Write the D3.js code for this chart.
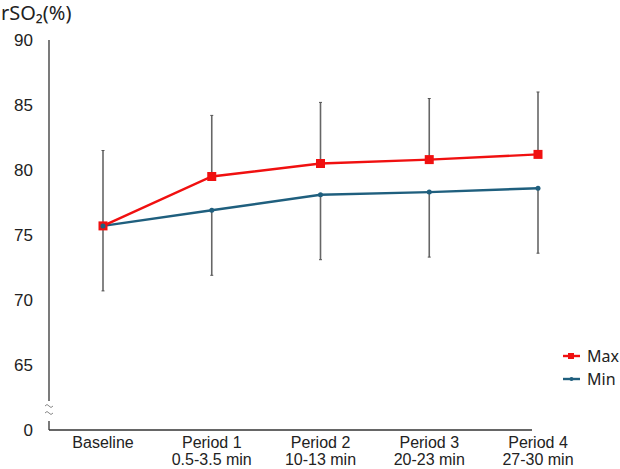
<!DOCTYPE html>
<html lang="en">
<head>
  <meta charset="utf-8">
  <script src="https://d3js.org/d3.v7.min.js"></script>
  <style>
    body { margin: 0; background: #fff; }
    text { font-family: "Liberation Sans", Arial, sans-serif; fill: #222; }
  </style>
</head>
<body>
  <div id="chart"></div>
  <script>
  const width = 620
  const height = 469

  // data
  const periods = ["Baseline", "Period 1", "Period 2", "Period 3", "Period 4"]
  const periodSub = ["", "0.5-3.5 min", "10-13 min", "20-23 min", "27-30 min"]
  const maxValues = [75.7, 79.5, 80.5, 80.8, 81.2]
  const minValues = [75.7, 76.9, 78.1, 78.3, 78.6]
  const maxUpper = [81.5, 84.2, 85.2, 85.5, 86.0]   // top of error bar (Max + SD)
  const minLower = [70.7, 71.9, 73.1, 73.3, 73.6]   // bottom of error bar (Min - SD)
  const yTicks = [60, 65, 70, 75, 80, 85, 90]
  const yTickLabels = ["0", "65", "70", "75", "80", "85", "90"]

  const redColor = "#f01010"
  const blueColor = "#1f5f7e"

  const x = d3.scalePoint()
      .domain(periods)
      .range([103, 538])

  const y = d3.scaleLinear()
      .domain([60, 90])
      .range([430, 40])

  const svg = d3.select("#chart").append("svg")
      .attr("width", width)
      .attr("height", height)

  // title
  svg.append("text")
      .attr("x", 1)
      .attr("y", 20)
      .style("font-size", "20px")
      .style("font-family", "'Noto Sans', sans-serif")
      .text("rSO₂(%)")

  ////////////////////// axes //////////////////////
  const axisX = 49
  const g = svg.append("g")

  // y axis line with a break near the bottom
  g.append("line")
      .attr("x1", axisX).attr("x2", axisX)
      .attr("y1", y(90)).attr("y2", 401)
      .attr("stroke", "#333").attr("stroke-width", 1.3)
  g.append("line")
      .attr("x1", axisX).attr("x2", axisX)
      .attr("y1", 421).attr("y2", y(60))
      .attr("stroke", "#333").attr("stroke-width", 1.3)
  // x axis line
  g.append("line")
      .attr("x1", axisX).attr("x2", 532)
      .attr("y1", y(60)).attr("y2", y(60))
      .attr("stroke", "#333").attr("stroke-width", 1.5)

  // break marks
  ;[405, 412].forEach(yy => {
    g.append("path")
        .attr("d", `M${axisX - 4},${yy + 1} q2,-3 4,0 t4,0`)
        .attr("fill", "none")
        .attr("stroke", "#888")
        .attr("stroke-width", 1)
  })

  // y tick labels
  g.selectAll(".ytick")
      .data(yTicks)
      .enter().append("text")
      .attr("class", "ytick")
      .attr("x", 33)
      .attr("y", d => y(d))
      .attr("dy", "0.35em")
      .attr("text-anchor", "end")
      .style("font-size", "17px")
      .text((d, i) => yTickLabels[i])

  // x labels
  const xl = g.selectAll(".xlab")
      .data(periods)
      .enter().append("text")
      .attr("class", "xlab")
      .attr("text-anchor", "middle")
      .style("font-size", "16px")
  xl.append("tspan")
      .attr("x", d => x(d))
      .attr("y", 448)
      .text(d => d)
  xl.append("tspan")
      .attr("x", d => x(d))
      .attr("y", 465)
      .text((d, i) => periodSub[i])

  ////////////////////// error bars //////////////////////
  const bars = g.append("g")
  periods.forEach((p, i) => {
    const cx = x(p)
    // upper part, from Max up
    bars.append("line")
        .attr("x1", cx).attr("x2", cx)
        .attr("y1", y(maxValues[i])).attr("y2", y(maxUpper[i]))
        .attr("stroke", "#666").attr("stroke-width", 1.6)
    // lower part, from Min down
    bars.append("line")
        .attr("x1", cx).attr("x2", cx)
        .attr("y1", y(minValues[i])).attr("y2", y(minLower[i]))
        .attr("stroke", "#666").attr("stroke-width", 1.6)
    ;[maxUpper[i], minLower[i]].forEach(v => {
      bars.append("line")
          .attr("x1", cx - 1.5).attr("x2", cx + 1.5)
          .attr("y1", y(v)).attr("y2", y(v))
          .attr("stroke", "#555").attr("stroke-width", 1)
    })
  })

  ////////////////////// lines //////////////////////
  const line = d3.line()
      .x((d, i) => x(periods[i]))
      .y(d => y(d))

  g.append("path")
      .datum(minValues)
      .attr("d", line)
      .attr("fill", "none")
      .attr("stroke", blueColor)
      .attr("stroke-width", 2.4)

  g.append("path")
      .datum(maxValues)
      .attr("d", line)
      .attr("fill", "none")
      .attr("stroke", redColor)
      .attr("stroke-width", 2.4)

  g.selectAll(".maxpt")
      .data(maxValues)
      .enter().append("rect")
      .attr("class", "maxpt")
      .attr("x", (d, i) => x(periods[i]) - 4.5)
      .attr("y", d => y(d) - 4.5)
      .attr("width", 9)
      .attr("height", 9)
      .attr("fill", redColor)

  g.selectAll(".minpt")
      .data(minValues)
      .enter().append("circle")
      .attr("class", "minpt")
      .attr("cx", (d, i) => x(periods[i]))
      .attr("cy", d => y(d))
      .attr("r", 2.5)
      .attr("fill", blueColor)

  ////////////////////// legend //////////////////////
  const legend = [
    { name: "Max", color: redColor, y: 356, square: true },
    { name: "Min", color: blueColor, y: 379, square: false }
  ]
  const lg = svg.append("g")
  legend.forEach(d => {
    lg.append("line")
        .attr("x1", 563).attr("x2", 580)
        .attr("y1", d.y).attr("y2", d.y)
        .attr("stroke", d.color).attr("stroke-width", 2.4)
    if (d.square) {
      lg.append("rect")
          .attr("x", 568).attr("y", d.y - 3)
          .attr("width", 6).attr("height", 6)
          .attr("fill", d.color)
    } else {
      lg.append("circle")
          .attr("cx", 571.5).attr("cy", d.y)
          .attr("r", 2)
          .attr("fill", d.color)
    }
    lg.append("text")
        .attr("x", 587)
        .attr("y", d.y)
        .attr("dy", "0.35em")
        .style("font-size", "16px")
        .style("font-family", "'Noto Sans', sans-serif")
        .text(d.name)
  })
  </script>
</body>
</html>
